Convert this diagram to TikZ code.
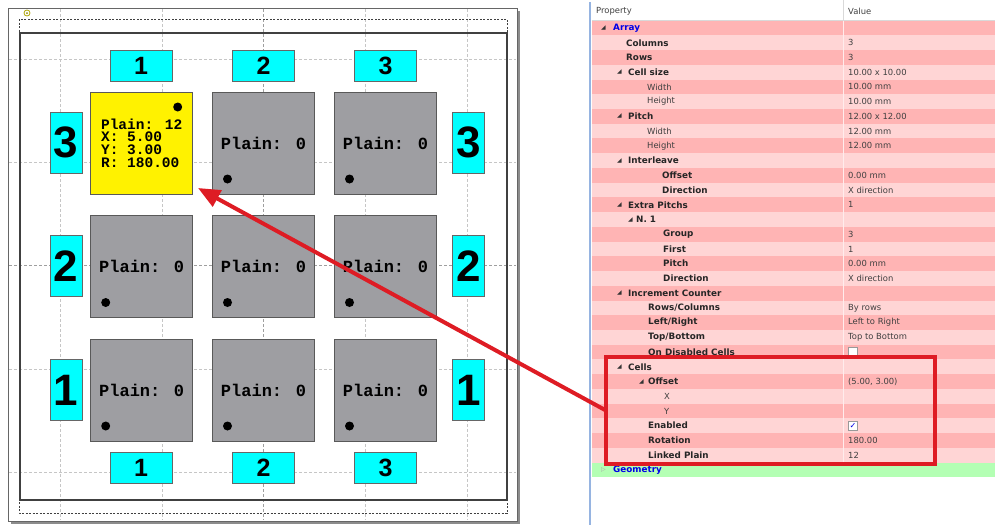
\documentclass[tikz,border=0pt]{standalone}
\usepackage{fontspec}
\setmainfont{DejaVu Sans}
\newfontfamily\monofont{Liberation Mono}
\newfontfamily\numfont{Liberation Sans}
\usepackage{tikz}
\usetikzlibrary{arrows.meta}

\definecolor{cellgray}{RGB}{158,158,162}
\definecolor{labelcyan}{RGB}{0,255,255}
\definecolor{rowdark}{RGB}{255,180,180}
\definecolor{rowlight}{RGB}{255,213,213}
\definecolor{rowgreen}{RGB}{180,255,180}
\definecolor{markred}{RGB}{222,28,36}
\definecolor{keyblue}{RGB}{0,0,230}
\definecolor{panelblue}{RGB}{150,180,225}

\begin{document}
\begin{tikzpicture}[x=1pt, y=-1pt,
    cell/.style={draw=black!65, line width=1pt, fill=cellgray, minimum size=102pt, inner sep=0pt,
        font=\monofont\bfseries\fontsize{17}{17}\selectfont},
    toptab/.style={draw=black!60, line width=0.8pt, fill=labelcyan, inner sep=0pt,
        minimum width=62pt, minimum height=31pt, font=\numfont\bfseries\fontsize{25}{25}\selectfont},
    sidetab/.style={draw=black!60, line width=0.8pt, fill=labelcyan, inner sep=0pt,
        minimum width=32pt, minimum height=61pt, font=\numfont\bfseries\fontsize{44}{44}\selectfont},
    pin/.style={circle, fill=black, inner sep=0pt, minimum size=9pt},
    guide/.style={gray!45, line width=0.6pt, dash pattern=on 3pt off 2pt},
    pkey/.style={anchor=west, inner sep=0pt, text=black!85, font=\fontsize{8.8}{10}\selectfont\bfseries},
    psub/.style={anchor=west, inner sep=0pt, text=black!75, font=\fontsize{8.4}{10}\selectfont},
    pval/.style={anchor=west, inner sep=0pt, text=black!75, font=\fontsize{8.4}{10}\selectfont},
    pgroup/.style={anchor=west, inner sep=0pt, text=keyblue, font=\fontsize{8.8}{10}\selectfont\bfseries},
    expd/.style={anchor=west, inner sep=0pt, text=black!80, font=\fontsize{6}{6}\selectfont},
    chkbox/.style={draw=black!40, fill=white, minimum size=9pt, inner sep=0pt,
        font=\fontsize{8}{8}\selectfont, text=keyblue},
    selbox/.style={draw=markred, line width=4.5pt, minimum width=329pt, minimum height=107pt,
        inner sep=0pt, outer sep=0pt},
    redarrow/.style={draw=markred, line width=4pt, -{Triangle[length=22pt, width=18pt]}}
]
    \useasboundingbox (0,0) rectangle (995,525);

    % Array layout view
    \fill[black!45] (11,11) rectangle (520,524);
    \draw[black!60, fill=white] (8,8) rectangle (517,521);

    % guide lines
    \draw[guide] (60,9) -- (60,520);
    \draw[guide] (162,9) -- (162,520);
    \draw[guide, gray!75] (263,9) -- (263,520);
    \draw[guide] (365,9) -- (365,520);
    \draw[guide] (467,9) -- (467,520);
    \draw[guide] (9,59) -- (516,59);
    \draw[guide] (9,162) -- (516,162);
    \draw[guide, gray!75] (9,265) -- (516,265);
    \draw[guide] (9,369) -- (516,369);
    \draw[guide] (9,472) -- (516,472);

    % board outlines
    \draw[black!75, line width=0.7pt, dash pattern=on 2pt off 1.5pt] (19,19) rectangle (507,513);
    \draw[black!75, line width=1.8pt] (20,33) rectangle (507,500);
    \draw[olive!70!yellow, line width=0.8pt] (27,13) circle (3pt);
    \fill[olive] (27,13) circle (1pt);

    % cells
    \node[cell, fill=yellow, align=left, font=\monofont\bfseries\fontsize{14.5}{12.6}\selectfont]
        (c11) at (141.7,143) {Plain: 12\\X: 5.00\\Y: 3.00\\R: 180.00};
    \node[cell] (c12) at (263.5,143) {Plain: 0};
    \node[cell] (c13) at (385.5,143) {Plain: 0};
    \node[cell] (c21) at (141.7,266.5) {Plain: 0};
    \node[cell] (c22) at (263.5,266.5) {Plain: 0};
    \node[cell] (c23) at (385.5,266.5) {Plain: 0};
    \node[cell] (c31) at (141.7,390) {Plain: 0};
    \node[cell] (c32) at (263.5,390) {Plain: 0};
    \node[cell] (c33) at (385.5,390) {Plain: 0};

    % reference dots
    \node[pin] (p11) at ([shift={(36,-36)}]c11.center) {};
    \node[pin] (p12) at ([shift={(-36,36)}]c12.center) {};
    \node[pin] (p13) at ([shift={(-36,36)}]c13.center) {};
    \node[pin] (p21) at ([shift={(-36,36)}]c21.center) {};
    \node[pin] (p22) at ([shift={(-36,36)}]c22.center) {};
    \node[pin] (p23) at ([shift={(-36,36)}]c23.center) {};
    \node[pin] (p31) at ([shift={(-36,36)}]c31.center) {};
    \node[pin] (p32) at ([shift={(-36,36)}]c32.center) {};
    \node[pin] (p33) at ([shift={(-36,36)}]c33.center) {};

    % column and row numbers
    \node[toptab] (t1) at (141,65.5) {1};
    \node[toptab] (t2) at (263.5,65.5) {2};
    \node[toptab] (t3) at (385.5,65.5) {3};
    \node[toptab] (b1) at (141,467.5) {1};
    \node[toptab] (b2) at (263.5,467.5) {2};
    \node[toptab] (b3) at (385.5,467.5) {3};
    \node[sidetab] (l3) at (66,142.5) {3};
    \node[sidetab] (l2) at (66,266) {2};
    \node[sidetab] (l1) at (66,390) {1};
    \node[sidetab] (r3) at (468.5,142.5) {3};
    \node[sidetab] (r2) at (468.5,266) {2};
    \node[sidetab] (r1) at (468.5,390) {1};

    % Property grid
    \draw[panelblue, line width=2.5pt] (590,2) -- (590,525);
    \draw[black!15] (592,20.6) -- (995,20.6);
    \draw[black!15] (843,0) -- (843,20.6);
    \node[pval] (hprop) at (596,11) {Property};
    \node[pval] (hval) at (848,11) {Value};

    \begin{scope}[x=1pt, y=-14.73pt, yshift=-28pt]
        % row stripes
        \foreach \i in {0,2,...,28}
            \fill[rowdark] (592,\i-0.5) rectangle (995,\i+0.5);
        \foreach \i in {1,3,...,29}
            \fill[rowlight] (592,\i-0.5) rectangle (995,\i+0.5);
        \fill[rowgreen] (592,29.5) rectangle (995,30.5);
        \draw[white!55!rowlight, line width=0.8pt] (843,-0.5) -- (843,29.5);

        % keys
        \node[expd] at (601,0) {◢};
        \node[pgroup] (kArray) at (613,0) {Array};
        \node[pkey] (kCols) at (626,1) {Columns};
        \node[pkey] (kRows) at (626,2) {Rows};
        \node[expd] at (617,3) {◢};
        \node[pkey] (kSize) at (628,3) {Cell size};
        \node[psub] (kSizeW) at (647,4) {Width};
        \node[psub] (kSizeH) at (647,5) {Height};
        \node[expd] at (617,6) {◢};
        \node[pkey] (kPitch) at (628,6) {Pitch};
        \node[psub] (kPitchW) at (647,7) {Width};
        \node[psub] (kPitchH) at (647,8) {Height};
        \node[expd] at (617,9) {◢};
        \node[pkey] (kInter) at (628,9) {Interleave};
        \node[pkey] (kInterO) at (662,10) {Offset};
        \node[pkey] (kInterD) at (662,11) {Direction};
        \node[expd] at (617,12) {◢};
        \node[pkey] (kExtra) at (628,12) {Extra Pitchs};
        \node[expd] at (628,13) {◢};
        \node[pkey] (kN) at (636,13) {N. 1};
        \node[pkey] (kGroup) at (663,14) {Group};
        \node[pkey] (kFirst) at (663,15) {First};
        \node[pkey] (kNPitch) at (663,16) {Pitch};
        \node[pkey] (kNDir) at (663,17) {Direction};
        \node[expd] at (617,18) {◢};
        \node[pkey] (kIncr) at (628,18) {Increment Counter};
        \node[pkey] (kRC) at (648,19) {Rows/Columns};
        \node[pkey] (kLR) at (648,20) {Left/Right};
        \node[pkey] (kTB) at (648,21) {Top/Bottom};
        \node[pkey] (kDis) at (648,22) {On Disabled Cells};
        \node[expd] at (617,23) {◢};
        \node[pkey] (kCells) at (628,23) {Cells};
        \node[expd] at (639,24) {◢};
        \node[pkey] (kOff) at (648,24) {Offset};
        \node[psub] (kX) at (664,25) {X};
        \node[psub] (kY) at (664,26) {Y};
        \node[pkey] (kEn) at (648,27) {Enabled};
        \node[pkey] (kRot) at (648,28) {Rotation};
        \node[pkey] (kLink) at (648,29) {Linked Plain};
        \node[expd, text=black!35] at (601,30) {▷};
        \node[pgroup] (kGeom) at (613,30) {Geometry};

        % values
        \node[pval] (vCols) at (848,1) {3};
        \node[pval] (vRows) at (848,2) {3};
        \node[pval] (vSize) at (848,3) {10.00 x 10.00};
        \node[pval] (vSizeW) at (848,4) {10.00 mm};
        \node[pval] (vSizeH) at (848,5) {10.00 mm};
        \node[pval] (vPitch) at (848,6) {12.00 x 12.00};
        \node[pval] (vPitchW) at (848,7) {12.00 mm};
        \node[pval] (vPitchH) at (848,8) {12.00 mm};
        \node[pval] (vInterO) at (848,10) {0.00 mm};
        \node[pval] (vInterD) at (848,11) {X direction};
        \node[pval] (vExtra) at (848,12) {1};
        \node[pval] (vGroup) at (848,14) {3};
        \node[pval] (vFirst) at (848,15) {1};
        \node[pval] (vNPitch) at (848,16) {0.00 mm};
        \node[pval] (vNDir) at (848,17) {X direction};
        \node[pval] (vRC) at (848,19) {By rows};
        \node[pval] (vLR) at (848,20) {Left to Right};
        \node[pval] (vTB) at (848,21) {Top to Bottom};
        \node[chkbox] (vDis) at (853,22) {};
        \node[pval] (vOff) at (848,24) {(5.00, 3.00)};
        \node[chkbox] (vEn) at (853,27) {✓};
        \node[pval] (vRot) at (848,28) {180.00};
        \node[pval] (vLink) at (848,29) {12};
    \end{scope}

    % highlight and link
    \node[selbox] (sel) at (770.5,410.5) {};
    \coordinate (tip) at (198,188);
    \draw[redarrow] (sel.west) -- (tip);
\end{tikzpicture}
\end{document}
